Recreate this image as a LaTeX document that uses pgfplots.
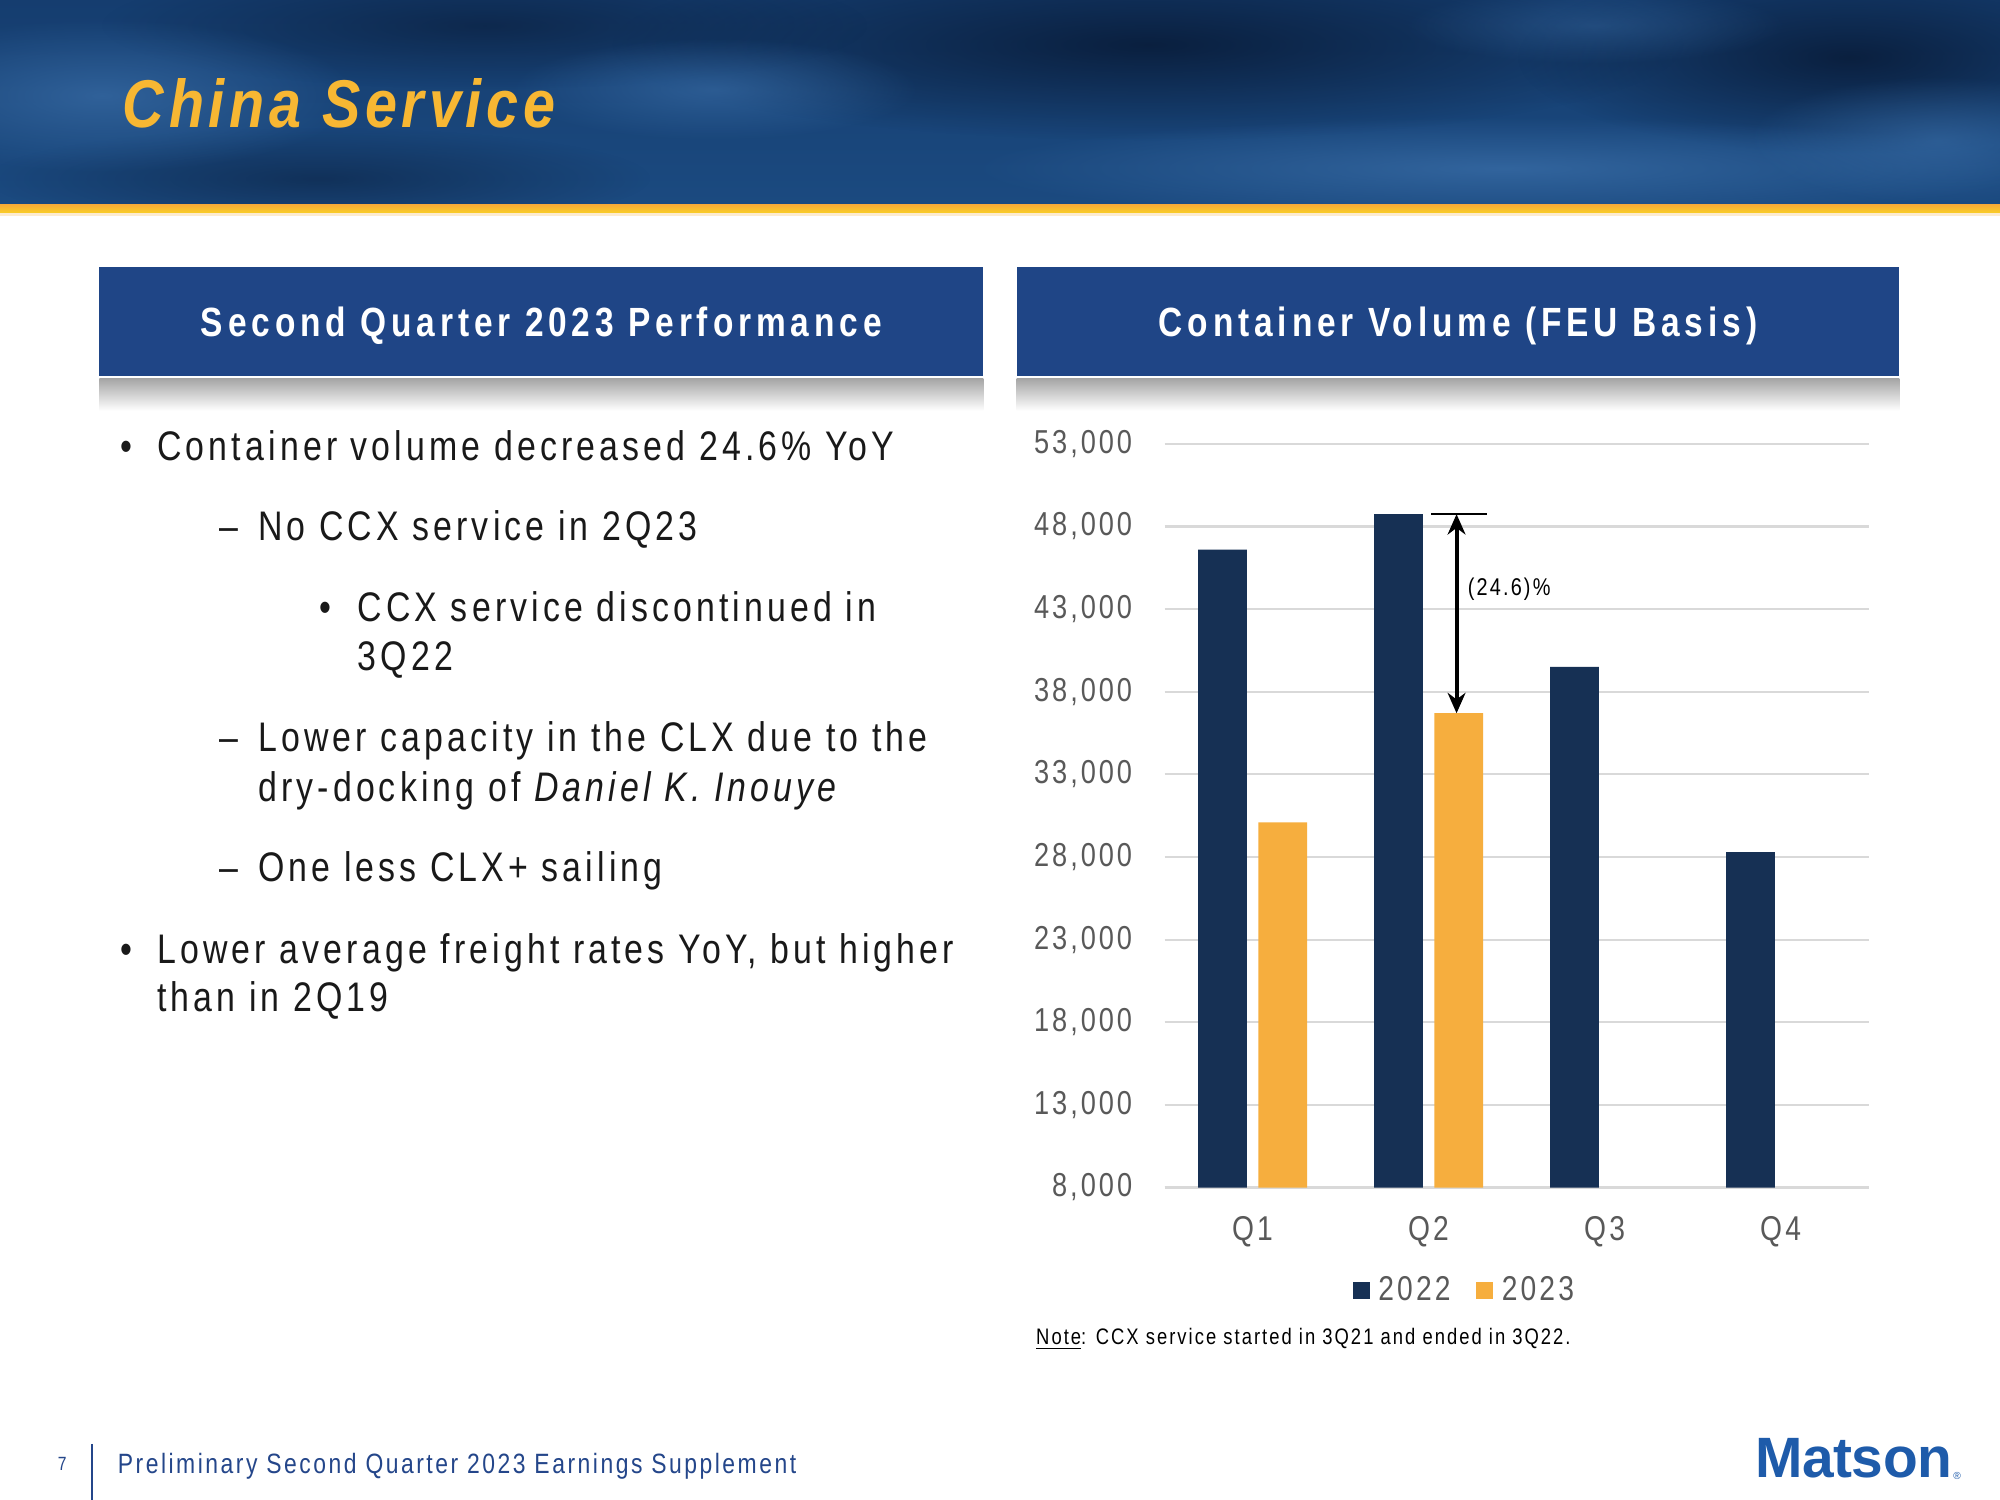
\documentclass[border=0pt]{standalone}
\usepackage{pgfplots}
\pgfplotsset{compat=1.18}
\usepackage{fontspec}
\usetikzlibrary{fadings,arrows.meta}
\tikzfading[name=softblob, inner color=transparent!0, outer color=transparent!100]
\setmainfont{Liberation Sans}
\newfontfamily\nar{Liberation Sans}[FakeStretch=0.82,LetterSpace=9]
\newfontfamily\narw{Liberation Sans}[FakeStretch=0.82,LetterSpace=10]
\newfontfamily\narb{Liberation Sans}[FakeStretch=0.82,LetterSpace=12]
\newfontfamily\titf{Liberation Sans}[FakeStretch=0.85,LetterSpace=7]
\newfontfamily\logof{Liberation Sans}[LetterSpace=-1]
\definecolor{navy}{HTML}{163054}
\definecolor{gold}{HTML}{F6AE3E}
\definecolor{boxblue}{HTML}{1F4586}
\definecolor{tickgray}{HTML}{595959}
\definecolor{gridgray}{HTML}{D9D9D9}
\definecolor{footblue}{HTML}{24468A}
\definecolor{logoblue}{HTML}{1E5BAA}
\definecolor{titlegold}{HTML}{F7B733}
\definecolor{hdrA}{HTML}{153D6F}
\definecolor{hdrB}{HTML}{1B4A80}
\definecolor{hdrDark}{HTML}{081A36}
\definecolor{hdrLight}{HTML}{3A6EA8}
\begin{document}
\begin{tikzpicture}
\begin{scope}[x=0.5pt,y=-0.5pt]
\path[use as bounding box] (0,0) rectangle (1568,1176);
\fill[white] (0,0) rectangle (1568,1176);
% header banner
\shade[top color=hdrA, bottom color=hdrB] (0,0) rectangle (1568,160);
\begin{scope}
\clip (0,0) rectangle (1568,160);
\fill[hdrDark, path fading=softblob, opacity=0.85] (900,35) ellipse (420 and 75);
\fill[hdrDark, path fading=softblob, opacity=0.85] (1450,45) ellipse (260 and 75);
\fill[hdrDark, path fading=softblob, opacity=0.6] (380,20) ellipse (300 and 50);
\fill[hdrDark, path fading=softblob, opacity=0.5] (250,140) ellipse (260 and 40);
\fill[hdrLight, path fading=softblob, opacity=0.7] (80,75) ellipse (200 and 60);
\fill[hdrLight, path fading=softblob, opacity=0.6] (560,70) ellipse (160 and 40);
\fill[hdrLight, path fading=softblob, opacity=0.75] (1180,132) ellipse (420 and 40);
\fill[hdrLight, path fading=softblob, opacity=0.6] (1520,110) ellipse (150 and 50);
\fill[hdrLight, path fading=softblob, opacity=0.4] (1250,20) ellipse (150 and 30);
\end{scope}
\shade[top color=gold!90!orange, bottom color=gold!60!yellow] (0,160) rectangle (1568,167);
\fill[gold!25] (0,167) rectangle (1568,169);
\node[anchor=base west, inner sep=0pt, text=titlegold, font=\titf\bfseries\itshape\fontsize{26.5}{30}\selectfont] at (96,100) {China Service};
% boxes
\fill[boxblue] (78,209) rectangle (771,295);
\fill[boxblue] (797,209) rectangle (1489,295);
\shade[top color=black!35, bottom color=white] (78,297) rectangle (771,322);
\shade[top color=black!35, bottom color=white] (797,297) rectangle (1489,322);
\node[anchor=base, text=white, inner sep=0pt, font=\narb\bfseries\fontsize{16}{19}\selectfont] at (424.5,264) {Second Quarter 2023 Performance};
\node[anchor=base, text=white, inner sep=0pt, font=\narb\bfseries\fontsize{16}{19}\selectfont] at (1143,264) {Container Volume (FEU Basis)};
% bullets
\tikzset{bl/.style={anchor=base west, inner sep=0pt, text=black!90, font=\narw\fontsize{16.2}{19}\selectfont}}
\node[bl] at (94,361) {•};
\node[bl] at (123,361) {Container volume decreased 24.6\% YoY};
\node[bl] at (172,424) {–};
\node[bl] at (202,424) {No CCX service in 2Q23};
\node[bl] at (250,487) {•};
\node[bl] at (280,487) {CCX service discontinued in};
\node[bl] at (280,526) {3Q22};
\node[bl] at (172,589) {–};
\node[bl] at (202,589) {Lower capacity in the CLX due to the};
\node[bl] at (202,628) {dry-docking of {\itshape Daniel K. Inouye}};
\node[bl] at (172,691) {–};
\node[bl] at (202,691) {One less CLX+ sailing};
\node[bl] at (94,755) {•};
\node[bl] at (123,755) {Lower average freight rates YoY, but higher};
\node[bl] at (123,793) {than in 2Q19};
% note
\node[anchor=base west, inner sep=0pt, font=\nar\fontsize{8.8}{11}\selectfont] at (812,1054) {\underline{Note}: CCX service started in 3Q21 and ended in 3Q22.};
% footer
\node[anchor=base west, inner sep=0pt, text=footblue, font=\nar\fontsize{7.5}{9}\selectfont] at (45,1153) {7};
\draw[footblue, line width=1pt] (72,1132) -- (72,1176);
\node[anchor=base west, inner sep=0pt, text=footblue, font=\nar\fontsize{10.95}{12}\selectfont] at (92,1155) {Preliminary Second Quarter 2023 Earnings Supplement};
\node[anchor=base west, inner sep=0pt, text=logoblue, font=\logof\bfseries\fontsize{22.3}{24}\selectfont] at (1376,1158) {Matson};
\node[anchor=base west, inner sep=0pt, text=logoblue, font=\fontsize{4}{5}\selectfont] at (1531,1160) {®};
\end{scope}
\begin{axis}[
  at={(456.5pt,-465.5pt)}, anchor=south west,
  scale only axis, width=276pt, height=291.5pt,
  xmin=-0.5, xmax=3.5, ymin=8000, ymax=53000,
  ybar, bar width=0.277,
  xtick={0,1,2,3}, xticklabels={Q1,Q2,Q3,Q4},
  ytick={8000,13000,18000,23000,28000,33000,38000,43000,48000,53000},
  scaled y ticks=false,
  /pgf/number format/1000 sep={,},
  /pgf/number format/assume math mode=true,
  ymajorgrids, grid style={gridgray, line width=0.8pt},
  axis x line*=bottom, axis y line*=left,
  x axis line style={gridgray, line width=0.8pt},
  y axis line style={draw=none},
  tick style={draw=none}, major tick length=0pt,
  yticklabel style={font=\nar\fontsize{13}{15}\selectfont, text=tickgray, anchor=east, inner sep=0pt, xshift=-12.5pt},
  xticklabel style={font=\nar\fontsize{13.5}{15}\selectfont, text=tickgray, anchor=north, inner sep=0pt, yshift=-11pt},
  legend style={at={(0.428,-0.139)}, anchor=center, draw=none, fill=none, legend columns=2,
    font=\nar\fontsize{13.5}{15}\selectfont, text=tickgray,
    /tikz/every even column/.append style={column sep=8pt},
    /tikz/every odd column/.append style={column sep=1.5pt}},
  legend image code/.code={\fill[#1] (0pt,-3.3pt) rectangle (6.6pt,3.3pt);},
  clip=false,
]
\addplot[fill=navy, draw=none, bar shift=-0.171] coordinates {(0,46600) (1,48750) (2,39500) (3,28300)};
\addplot[fill=gold, draw=none, bar shift=0.171] coordinates {(0,30100) (1,36700)};
\legend{2022,2023}
\draw[black, line width=0.9pt] (axis cs:1.014,48750) -- (axis cs:1.333,48750);
\draw[black, line width=1.6pt, {Stealth[length=8pt,width=7pt]}-{Stealth[length=8pt,width=7pt]}] (axis cs:1.159,48750) -- (axis cs:1.159,36700);
\node[anchor=west, inner sep=0pt, font=\nar\fontsize{9.5}{11}\selectfont] at (axis cs:1.22,44200) {(24.6)\%};
\end{axis}
\end{tikzpicture}
\end{document}
